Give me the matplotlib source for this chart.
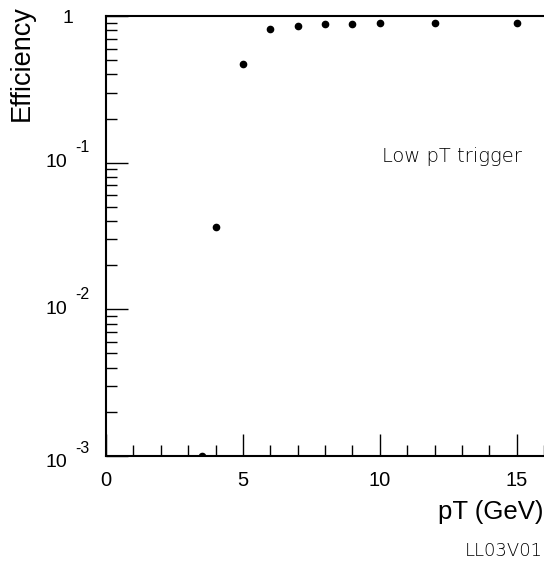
#!/usr/bin/env python
# -*- coding: utf-8 -*-
'''
Eficiencia do trigger de baixo pT em funcao do pT.
'''

import matplotlib
matplotlib.use('Agg')
import matplotlib.pyplot as plt
import matplotlib.ticker as ticker
import matplotlib.transforms as transforms

# dados
pt = [3.5, 4, 5, 6, 7, 8, 9, 10, 12, 15]
eff = [0.001, 0.0365, 0.47, 0.81, 0.86, 0.88, 0.88, 0.89, 0.90, 0.90]

ytick_vals = [1e-3, 1e-2, 1e-1]
ytick_exps = ['-3', '-2', '-1']

plt.rcParams['font.family'] = ['Liberation Sans', 'DejaVu Sans']

fig = plt.figure(figsize=(5.44, 5.62), dpi=100)
ax = fig.add_axes([106 / 544, 106 / 562, 438 / 544, 440 / 562])

ax.plot(pt, eff, 'o', color='black', markersize=4.5)

ax.set_yscale('log')
ax.set_ylim(1e-3, 1)
ax.set_xlim(0, 16)

# eixo x
ax.xaxis.set_major_locator(ticker.MultipleLocator(5))
ax.xaxis.set_minor_locator(ticker.MultipleLocator(1))
ax.tick_params(axis='x', which='major', direction='in', length=16,
               width=1, labelsize=14.5, pad=11)
ax.tick_params(axis='x', which='minor', direction='in', length=8, width=1)

# eixo y: rotulos 10^n desenhados a mao
ax.yaxis.set_major_locator(ticker.FixedLocator(ytick_vals + [1]))
ax.yaxis.set_major_formatter(ticker.NullFormatter())
ax.yaxis.set_minor_locator(ticker.LogLocator(base=10, subs=range(2, 10)))
ax.yaxis.set_minor_formatter(ticker.NullFormatter())
ax.tick_params(axis='y', which='major', direction='in', length=16, width=1)
ax.tick_params(axis='y', which='minor', direction='in', length=8, width=1)

trans = transforms.blended_transform_factory(ax.transAxes, ax.transData)
for val, exp in zip(ytick_vals, ytick_exps):
    # o rotulo de baixo fica um pouco abaixo do eixo
    dy = -5 if val == ytick_vals[0] else 0
    ax.annotate('10', (0, val), xycoords=trans, textcoords='offset points',
                xytext=(-28, dy), ha='right', va='center', fontsize=14,
                annotation_clip=False)
    ax.annotate(exp, (0, val), xycoords=trans, textcoords='offset points',
                xytext=(-22.5, dy + 7.5), ha='left', va='baseline',
                fontsize=11.5, annotation_clip=False)
ax.annotate('1', (0, 1), xycoords=trans, textcoords='offset points',
            xytext=(-27.5, -2), ha='center', va='center', fontsize=14,
            annotation_clip=False)

for s in ['left', 'bottom', 'top']:
    ax.spines[s].set_linewidth(1.5)
ax.spines['right'].set_visible(False)

# textos
ax.text((382 - 106) / 438, 1 - (156 - 16) / 440,
        'Low pT trigger', transform=ax.transAxes, va='center',
        fontsize=14, family='DejaVu Sans', fontweight=200, color='black')
fig.text(22 / 544, 1 - 63 / 562, 'Efficiency', rotation=90,
         ha='center', va='center', fontsize=19.5)
fig.text(543 / 544, 1 - 512 / 562, 'pT (GeV)', ha='right', va='center',
         fontsize=18.5)
fig.text(543 / 544, 1 - 551 / 562, 'LL03V01', ha='right', va='center',
         fontsize=13, family='DejaVu Sans', fontweight=200)

fig.savefig('out.png', dpi=100)
